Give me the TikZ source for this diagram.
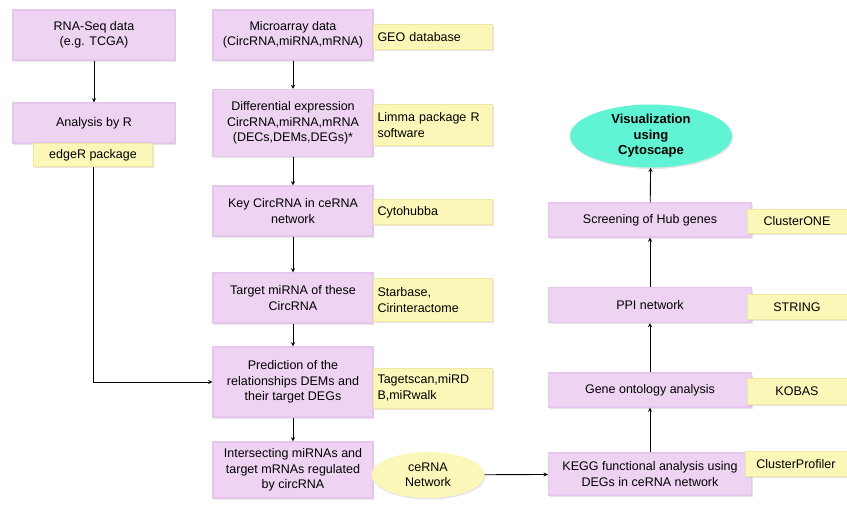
\documentclass[tikz,border=0pt]{standalone}
\usepackage{fontspec}
\setmainfont{Liberation Sans}
\usetikzlibrary{shapes.geometric, shadows}
\definecolor{boxpink}{RGB}{238,212,242}
\definecolor{edgepink}{RGB}{230,198,236}
\definecolor{boxyellow}{RGB}{251,247,184}
\definecolor{edgeyellow}{RGB}{240,232,160}
\definecolor{boxteal}{RGB}{96,244,212}

\begin{document}
\begin{tikzpicture}[x=1pt, y=-1pt,
    font=\fontsize{12.5}{15.5}\selectfont,
    pinkbox/.style={fill=boxpink, draw=edgepink, line width=1.2pt, align=center,
        inner sep=2pt, drop shadow={opacity=0.2, shadow xshift=1pt, shadow yshift=-1.5pt}},
    toolbox/.style={fill=boxyellow, draw=edgeyellow, line width=1pt, inner sep=4pt,
        drop shadow={opacity=0.2, shadow xshift=1pt, shadow yshift=-1.5pt}},
    lefttool/.style={toolbox, align=left, text width=#1},
    blob/.style={ellipse, align=center, inner sep=0pt,
        drop shadow={opacity=0.2, shadow xshift=1pt, shadow yshift=-1.5pt}},
    arrow/.style={->, >=stealth, line width=0.9pt}]
    \useasboundingbox (0,0) rectangle (847,507);

    % left column
    \node (rnaseq) at (94,35) [pinkbox, minimum width=162pt, minimum height=50pt] {RNA-Seq data\\(e.g. TCGA)};
    \node (byr) at (94,123) [pinkbox, minimum width=162pt, minimum height=40pt] {Analysis by R};
    \node (edger) at (93,155) [toolbox, align=center, minimum width=119pt, minimum height=23pt] {edgeR package};

    % middle column
    \node (micro) at (293,35) [pinkbox, minimum width=160pt, minimum height=50pt] {Microarray data\\(CircRNA,miRNA,mRNA)};
    \node (diff) at (293,123) [pinkbox, minimum width=160pt, minimum height=67pt] {Differential expression\\CircRNA,miRNA,mRNA\\(DECs,DEMs,DEGs)*};
    \node (key) at (293,211) [pinkbox, minimum width=160pt, minimum height=50pt] {Key CircRNA in ceRNA\\network};
    \node (target) at (293,298) [pinkbox, minimum width=160pt, minimum height=50pt] {Target miRNA of these\\CircRNA};
    \node (predict) at (293,382) [pinkbox, minimum width=160pt, minimum height=70pt] {Prediction of the\\relationships DEMs and\\their target DEGs};
    \node (intersect) at (293,470) [pinkbox, minimum width=160pt, minimum height=56pt] {Intersecting miRNAs and\\target mRNAs regulated\\by circRNA};

    \node (geo) at (433,37) [lefttool=111pt, minimum height=25pt] {GEO database};
    \node (limma) at (433,125) [lefttool=111pt, minimum height=41pt] {Limma package R\\software};
    \node (hubba) at (433,212) [lefttool=111pt, minimum height=25pt] {Cytohubba};
    \node (starbase) at (433,300) [lefttool=111pt, minimum height=43pt] {Starbase,\\Cirinteractome};
    \node (tagetscan) at (433,388) [lefttool=111pt, minimum height=40pt] {Tagetscan,miRD\\B,miRwalk};
    \node (cerna) at (428,475) [blob, fill=boxyellow, minimum width=113pt, minimum height=46pt] {ceRNA\\Network};

    % right column
    \node (kegg) at (650,474) [pinkbox, minimum width=203pt, minimum height=42pt] {KEGG functional analysis using\\DEGs in ceRNA network};
    \node (go) at (650,390) [pinkbox, minimum width=203pt, minimum height=34pt] {Gene ontology analysis};
    \node (ppi) at (650,305) [pinkbox, minimum width=203pt, minimum height=35pt] {PPI network};
    \node (hub) at (650,220) [pinkbox, minimum width=203pt, minimum height=34pt] {Screening of Hub genes};
    \node (visual) at (651,136) [blob, fill=boxteal, minimum width=162pt, minimum height=63pt, font=\fontsize{13}{15.5}\selectfont\bfseries] {Visualization\\using\\Cytoscape};

    \node (profiler) at (796,464) [toolbox, minimum width=102pt, minimum height=25pt] {ClusterProfiler};
    \node (kobas) at (797,391) [toolbox, minimum width=100pt, minimum height=26pt] {KOBAS};
    \node (string) at (797,307) [toolbox, minimum width=100pt, minimum height=25pt] {STRING};
    \node (clusterone) at (797,221) [toolbox, minimum width=100pt, minimum height=24pt] {ClusterONE};

    % connectors
    \draw [arrow] (rnaseq) -- (byr);
    \draw [arrow] (edger.south) |- (predict.west);
    \draw [arrow] (micro) -- (diff);
    \draw [arrow] (diff) -- (key);
    \draw [arrow] (key) -- (target);
    \draw [arrow] (target) -- (predict);
    \draw [arrow] (predict) -- (intersect);
    \draw [arrow] (cerna) -- (kegg);
    \draw [arrow] (kegg) -- (go);
    \draw [arrow] (go) -- (ppi);
    \draw [arrow] (ppi) -- (hub);
    \draw [arrow] (hub) -- (visual);
\end{tikzpicture}
\end{document}
